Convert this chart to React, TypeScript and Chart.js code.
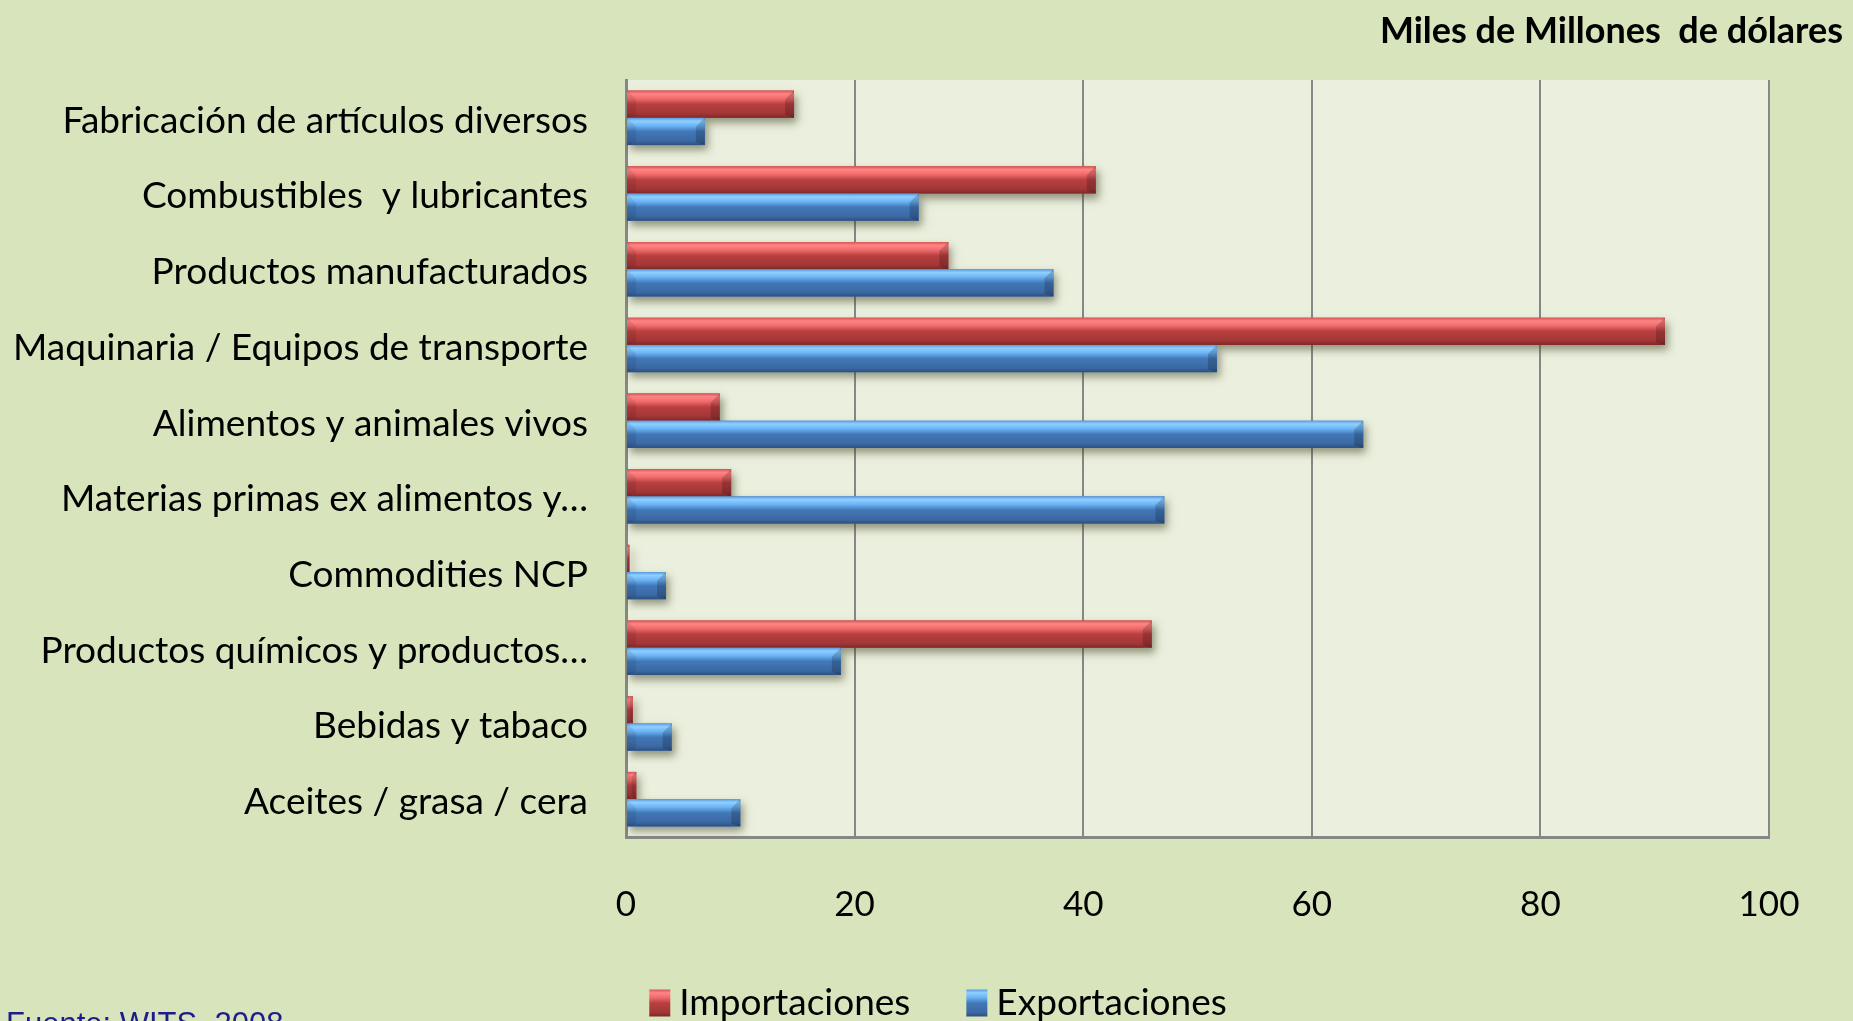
import React, { useEffect, useRef } from 'react';
import { Chart, registerables } from 'chart.js';

Chart.register(...registerables);

const categories = [
  'Fabricación de artículos diversos',
  'Combustibles  y lubricantes',
  'Productos manufacturados',
  'Maquinaria / Equipos de transporte',
  'Alimentos y animales vivos',
  'Materias primas ex alimentos y…',
  'Commodities NCP',
  'Productos químicos y productos…',
  'Bebidas y tabaco',
  'Aceites / grasa / cera',
];
const importaciones = [14.7, 41.1, 28.2, 90.9, 8.2, 9.2, 0.3, 46.0, 0.6, 0.9];
const exportaciones = [6.9, 25.6, 37.4, 51.7, 64.5, 47.1, 3.5, 18.8, 4.0, 10.0];
const seriesNames = ['Importaciones', 'Exportaciones'];
const seriesColors = ['#c0504d', '#4f81bd'];
const xMin = 0;
const xMax = 100;
const xStep = 20;
const titleText = 'Miles de Millones  de dólares';
const sourceText = 'Fuente: WITS, 2008';

const FONT = 'Lato, "Open Sans", sans-serif';

const bevelStops: Record<string, [number, string][]> = {
  '#c0504d': [
    [0, '#d65454'],
    [0.12, '#ff8585'],
    [0.3, '#f06a6a'],
    [0.5, '#b84040'],
    [0.85, '#a23636'],
    [1, '#7c2828'],
  ],
  '#4f81bd': [
    [0, '#5a9ae0'],
    [0.12, '#8fd0ff'],
    [0.3, '#6ab2f5'],
    [0.5, '#4278b8'],
    [0.85, '#3b68a3'],
    [1, '#2b4f7e'],
  ],
};

function makeGrad(ctx: CanvasRenderingContext2D, color: string, top: number, h: number) {
  const g = ctx.createLinearGradient(0, top, 0, top + h);
  (bevelStops[color] || [[0, color], [1, color]]).forEach(([o, c]) => g.addColorStop(o, c));
  return g;
}

const decorPlugin = {
  id: 'decor',
  beforeDraw(chart: any) {
    const { ctx, chartArea } = chart;
    ctx.save();
    ctx.fillStyle = '#ebf0de';
    ctx.fillRect(chartArea.left, chartArea.top, chartArea.right - chartArea.left, chartArea.bottom - chartArea.top);
    ctx.restore();
  },
  beforeDatasetsDraw(chart: any) {
    const ctx = chart.ctx;
    ctx.save();
    ctx.shadowColor = 'rgba(60,60,30,0.5)';
    ctx.shadowBlur = 8;
    ctx.shadowOffsetX = 3;
    ctx.shadowOffsetY = 5;
  },
  afterDatasetsDraw(chart: any) {
    const ctx = chart.ctx;
    ctx.restore();
    ctx.save();
    chart.data.datasets.forEach((ds: any, di: number) => {
      const meta = chart.getDatasetMeta(di);
      const color = seriesColors[di];
      meta.data.forEach((el: any) => {
        const p = el.getProps(['x', 'y', 'base', 'height'], true);
        const left = Math.min(p.x, p.base);
        const right = Math.max(p.x, p.base);
        const top = p.y - p.height / 2;
        const h = p.height;
        const w = right - left;
        if (w <= 0) return;
        ctx.fillStyle = makeGrad(ctx, color, top, h);
        ctx.fillRect(left, top, w, h);
        const bw = Math.min(9, w / 2);
        ctx.fillStyle = 'rgba(0,0,0,0.18)';
        ctx.beginPath();
        ctx.moveTo(right - bw, top + bw);
        ctx.lineTo(right, top);
        ctx.lineTo(right, top + h);
        ctx.lineTo(right - bw, top + h - 3);
        ctx.closePath();
        ctx.fill();
        ctx.fillStyle = 'rgba(0,0,0,0.08)';
        ctx.beginPath();
        ctx.moveTo(left, top);
        ctx.lineTo(left + bw, top + bw);
        ctx.lineTo(left + bw, top + h - 3);
        ctx.lineTo(left, top + h);
        ctx.closePath();
        ctx.fill();
      });
    });
    ctx.restore();
  },
  afterDraw(chart: any) {
    const ctx = chart.ctx;
    ctx.save();
    ctx.fillStyle = '#000';
    ctx.font = `bold 36px ${FONT}`;
    ctx.textAlign = 'right';
    ctx.textBaseline = 'middle';
    ctx.fillText(titleText, chart.width - 10, 31);

    ctx.font = `37px ${FONT}`;
    ctx.textBaseline = 'middle';
    ctx.textAlign = 'left';
    const boxW = 21;
    const boxH = 27;
    const gap = 9;
    const spacing = 56;
    const names = chart.data.datasets.map((d: any) => d.label);
    const widths = names.map((n: string) => boxW + gap + ctx.measureText(n).width);
    const total = widths.reduce((a: number, b: number) => a + b, 0) + spacing * (names.length - 1);
    let x = 938 - total / 2;
    const cy = 1003;
    names.forEach((n: string, i: number) => {
      const color = seriesColors[i];
      ctx.fillStyle = makeGrad(ctx, color, cy - boxH / 2, boxH);
      ctx.fillRect(x, cy - boxH / 2, boxW, boxH);
      ctx.fillStyle = '#000';
      ctx.fillText(n, x + boxW + gap, cy);
      x += widths[i] + spacing;
    });

    ctx.font = '31px "Liberation Sans", Arial, sans-serif';
    ctx.fillStyle = '#1c1c8a';
    ctx.textBaseline = 'alphabetic';
    ctx.fillText(sourceText, 6, 1034);
    ctx.restore();
  },
};

export default function App() {
  const ref = useRef<HTMLCanvasElement | null>(null);
  useEffect(() => {
    document.body.style.margin = '0';
    if (!ref.current) return;
    const chart = new Chart(ref.current, {
      type: 'bar',
      data: {
        labels: categories,
        datasets: [
          { label: seriesNames[0], data: importaciones, backgroundColor: seriesColors[0] },
          { label: seriesNames[1], data: exportaciones, backgroundColor: seriesColors[1] },
        ],
      },
      options: {
        indexAxis: 'y',
        animation: false,
        responsive: true,
        maintainAspectRatio: false,
        layout: { padding: { top: 80, left: 0, right: 84, bottom: 84 } },
        datasets: { bar: { categoryPercentage: 0.72, barPercentage: 1.0 } },
        plugins: {
          legend: { display: false },
          tooltip: { enabled: false },
          title: { display: false },
        },
        scales: {
          x: {
            min: xMin,
            max: xMax,
            ticks: {
              stepSize: xStep,
              color: '#000',
              font: { family: FONT, size: 35 },
              padding: 47,
            },
            grid: { color: '#878787', lineWidth: 2, drawTicks: false },
            border: { display: true, color: '#878787', width: 3 },
            afterFit: (s: any) => {
              s.height = 100;
            },
          },
          y: {
            ticks: {
              color: '#000',
              font: { family: FONT, size: 37 },
              padding: 38,
              labelOffset: 3,
              autoSkip: false,
            },
            grid: { display: false, drawTicks: false },
            border: { display: true, color: '#878787', width: 3 },
            afterFit: (s: any) => {
              s.width = 626;
            },
          },
        },
      },
      plugins: [decorPlugin],
    });
    return () => chart.destroy();
  }, []);
  return (
    <div style={{ position: 'fixed', left: 0, top: 0, width: 1853, height: 1021, background: '#d8e4bc', overflow: 'hidden' }}>
      <canvas ref={ref} />
    </div>
  );
}
